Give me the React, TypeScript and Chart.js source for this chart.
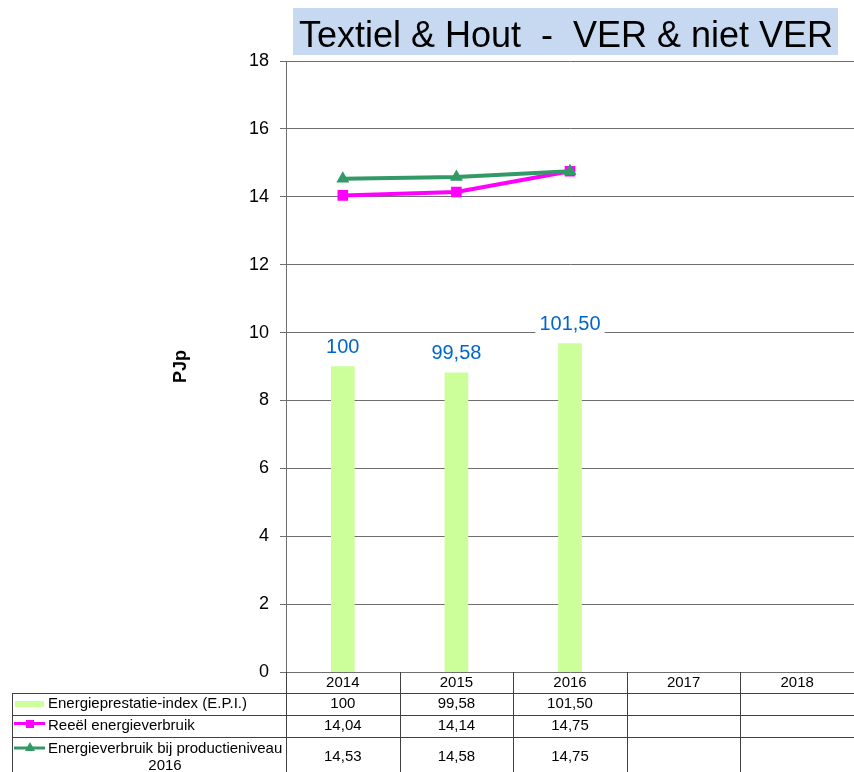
import React, { useEffect, useRef } from "react";
import { Chart, registerables } from "chart.js";

Chart.register(...registerables);

// Categories and series
const years = ["2014", "2015", "2016", "2017", "2018"];
const epiValues: (number | null)[] = [100, 99.58, 101.5, null, null];
const reeelValues: (number | null)[] = [14.04, 14.14, 14.75, null, null];
const productieValues: (number | null)[] = [14.53, 14.58, 14.75, null, null];

const epiName = "Energieprestatie-index (E.P.I.)";
const reeelName = "Reeël energieverbruik";
const productieNameLines = ["Energieverbruik bij productieniveau", "2016"];

const titleText = "Textiel & Hout  -  VER & niet VER";
const axisTitle = "PJp";

// Left axis (PJp) and hidden index axis for the E.P.I. bars
const yMin = 0;
const yMax = 18;
const yStep = 2;
const epiAxisMin = 80;
const epiAxisMax = 120;

const FONT = "Arial, 'Liberation Sans', sans-serif";
const BAR_COLOR = "#ccff99";
const MAGENTA = "#ff00ff";
const GREEN = "#339966";
const LABEL_BLUE = "#0066cc";
const GRID = "#6e6e6e";
const TABLE_LINE = "#404040";

const fmt = (v: number | null) =>
  v == null ? "" : Number.isInteger(v) ? String(v) : v.toFixed(2).replace(".", ",");

const decorations = {
  id: "decorations",
  beforeDraw(chart: any) {
    const ctx = chart.ctx;
    ctx.save();
    ctx.fillStyle = "#ffffff";
    ctx.fillRect(0, 0, chart.width, chart.height);
    // title box
    ctx.fillStyle = "#c6d9f1";
    ctx.fillRect(293, 8, 545, 47);
    ctx.fillStyle = "#000000";
    ctx.font = `36px ${FONT}`;
    ctx.textAlign = "center";
    ctx.textBaseline = "alphabetic";
    ctx.fillText(titleText, 566, 47);
    ctx.restore();
  },
  afterDatasetsDraw(chart: any) {
    // value labels above the E.P.I. bars
    const ctx = chart.ctx;
    const meta = chart.getDatasetMeta(0);
    ctx.save();
    ctx.font = `20px ${FONT}`;
    ctx.textAlign = "center";
    ctx.textBaseline = "middle";
    meta.data.forEach((bar: any, i: number) => {
      const v = epiValues[i];
      if (v == null) return;
      const text = fmt(v);
      const w = ctx.measureText(text).width + 8;
      const cy = bar.y - 19;
      ctx.fillStyle = "#ffffff";
      ctx.fillRect(bar.x - w / 2, cy - 12, w, 24);
      ctx.fillStyle = LABEL_BLUE;
      ctx.fillText(text, bar.x, cy);
    });
    ctx.restore();
  },
  afterDraw(chart: any) {
    // data table under the plot
    const ctx = chart.ctx;
    const { left, right, bottom } = chart.chartArea;
    const xs = chart.scales.x;
    const colW = (right - left) / years.length;
    const tableLeft = 12;
    const tableBottom = chart.height;
    const rows = [bottom, bottom + 21, bottom + 43, bottom + 65];
    const px = (v: number) => Math.round(v) + 0.5;

    ctx.save();
    ctx.strokeStyle = TABLE_LINE;
    ctx.lineWidth = 1;
    ctx.beginPath();
    for (let r = 1; r < rows.length; r++) {
      ctx.moveTo(tableLeft, px(rows[r]));
      ctx.lineTo(chart.width, px(rows[r]));
    }
    ctx.moveTo(px(tableLeft), px(rows[1]));
    ctx.lineTo(px(tableLeft), tableBottom);
    for (let i = 0; i <= years.length; i++) {
      const xx = px(left + i * colW);
      ctx.moveTo(xx, bottom);
      ctx.lineTo(xx, tableBottom);
    }
    ctx.stroke();

    ctx.fillStyle = "#000000";
    ctx.font = `15px ${FONT}`;
    ctx.textAlign = "center";
    ctx.textBaseline = "middle";
    const rowY = [683, 704, 726, 757];
    years.forEach((y, i) => {
      const cx = xs.getPixelForValue(i);
      ctx.fillText(y, cx, rowY[0]);
      ctx.fillText(fmt(epiValues[i]), cx, rowY[1]);
      ctx.fillText(fmt(reeelValues[i]), cx, rowY[2]);
      ctx.fillText(fmt(productieValues[i]), cx, rowY[3]);
    });

    // row headers with legend keys
    ctx.textAlign = "left";
    ctx.fillText(epiName, 48, rowY[1]);
    ctx.fillText(reeelName, 48, rowY[2]);
    ctx.fillText(productieNameLines[0], 48, 749);
    ctx.textAlign = "center";
    ctx.fillText(productieNameLines[1], 165, 766);

    ctx.fillStyle = BAR_COLOR;
    ctx.fillRect(15, 701, 29, 6);

    ctx.lineWidth = 3;
    ctx.strokeStyle = MAGENTA;
    ctx.beginPath();
    ctx.moveTo(14, 723.5);
    ctx.lineTo(45, 723.5);
    ctx.stroke();
    ctx.fillStyle = MAGENTA;
    ctx.fillRect(26, 720, 8, 8);

    ctx.strokeStyle = GREEN;
    ctx.beginPath();
    ctx.moveTo(14, 748);
    ctx.lineTo(45, 748);
    ctx.stroke();
    ctx.fillStyle = GREEN;
    ctx.beginPath();
    ctx.moveTo(30, 742);
    ctx.lineTo(35, 751);
    ctx.lineTo(25, 751);
    ctx.closePath();
    ctx.fill();
    ctx.restore();
  },
};

export default function App() {
  const canvasRef = useRef<HTMLCanvasElement | null>(null);

  useEffect(() => {
    document.body.style.margin = "0";
    const canvas = canvasRef.current;
    if (!canvas) return;
    const chart = new Chart(canvas, {
      type: "bar",
      data: {
        labels: years,
        datasets: [
          {
            type: "bar",
            label: epiName,
            data: epiValues,
            yAxisID: "y1",
            backgroundColor: BAR_COLOR,
            borderWidth: 0,
            barThickness: 23,
            order: 3,
          },
          {
            type: "line",
            label: reeelName,
            data: reeelValues,
            yAxisID: "y",
            borderColor: MAGENTA,
            backgroundColor: MAGENTA,
            borderWidth: 4,
            pointStyle: "rect",
            pointRadius: 7.5,
            pointBorderWidth: 0,
            tension: 0,
            order: 2,
          },
          {
            type: "line",
            label: productieNameLines.join(" "),
            data: productieValues,
            yAxisID: "y",
            borderColor: GREEN,
            backgroundColor: GREEN,
            borderWidth: 4,
            pointStyle: "triangle",
            pointRadius: 7.5,
            pointBorderWidth: 0,
            tension: 0,
            order: 1,
          },
        ],
      },
      options: {
        responsive: false,
        animation: false,
        devicePixelRatio: 1,
        layout: { autoPadding: false, padding: { left: 170, top: 61, right: 0, bottom: 100 } },
        plugins: {
          legend: { display: false },
          tooltip: { enabled: false },
        },
        scales: {
          x: {
            display: false,
          },
          y: {
            position: "left",
            min: yMin,
            max: yMax,
            ticks: {
              stepSize: yStep,
              color: "#000000",
              font: { family: FONT, size: 18 },
              padding: 11,
            },
            grid: {
              color: GRID,
              lineWidth: 1,
              tickLength: 6,
              drawTicks: true,
            },
            border: { color: GRID, width: 1 },
            title: {
              display: true,
              text: axisTitle,
              color: "#000000",
              font: { family: FONT, size: 18, weight: "bold" },
              padding: 0,
            },
            afterFit(scale: any) {
              scale.width = 116;
            },
          },
          y1: {
            display: false,
            min: epiAxisMin,
            max: epiAxisMax,
          },
        },
      },
      plugins: [decorations],
    } as any);
    return () => chart.destroy();
  }, []);

  return <canvas ref={canvasRef} width={854} height={772} style={{ display: "block" }} />;
}
